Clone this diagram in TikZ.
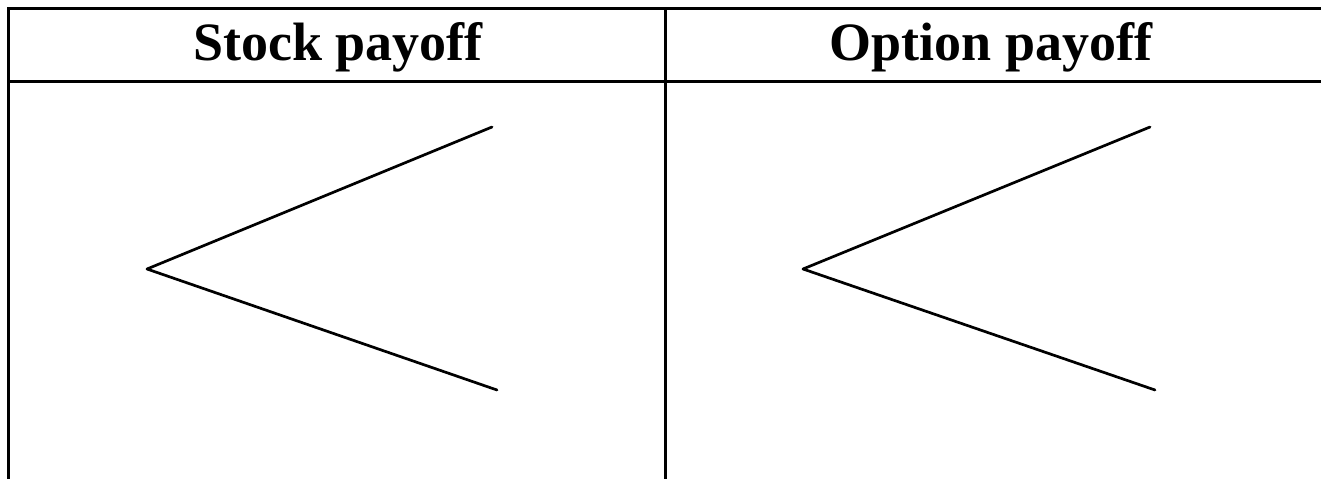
\documentclass[tikz,border=0pt]{standalone}
\usepackage{fontspec}
\setmainfont{Liberation Serif}
\begin{document}
\begin{tikzpicture}[x=1pt,y=-1pt,
  rule/.style={line width=3pt},
  branch/.style={line width=2.7pt, line cap=round, line join=round},
  head/.style={anchor=base, inner sep=0pt, font=\fontsize{54}{60}\selectfont\bfseries}]
\useasboundingbox (0,0) rectangle (1321,479);
% table frame
\coordinate (tl) at (8,8.5);
\coordinate (tr) at (1321,8.5);
\coordinate (hl) at (8,81);
\coordinate (hr) at (1321,81);
\coordinate (bl) at (8,479);
\coordinate (mt) at (665,8.5);
\coordinate (mb) at (665,479);
\draw[rule] (tr) -- (tl) -- (bl);
\draw[rule] (hl) -- (hr);
\draw[rule] (mt) -- (mb);
% headers
\node[head] (h1) at (338,60) {Stock payoff};
\node[head] (h2) at (991,60) {Option payoff};
% left tree
\coordinate (a0) at (147,269);
\coordinate (a1) at (492,127);
\coordinate (a2) at (497,390);
\draw[branch] (a1) -- (a0) -- (a2);
% right tree
\coordinate (b0) at (803,269);
\coordinate (b1) at (1150,127);
\coordinate (b2) at (1155,390);
\draw[branch] (b1) -- (b0) -- (b2);
\end{tikzpicture}
\end{document}
